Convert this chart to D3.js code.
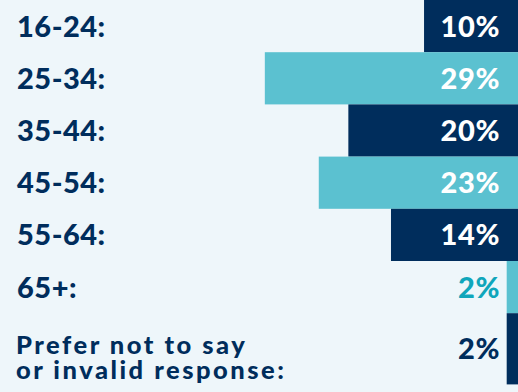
<!DOCTYPE html>
<html>
<head>
<meta charset="utf-8">
<script src="https://cdn.jsdelivr.net/npm/d3@7"></script>
<style>
  html, body { margin: 0; padding: 0; background: #eef6fa; }
  svg { display: block; }
  text { font-family: Lato, "Open Sans", sans-serif; font-weight: 900; }
</style>
</head>
<body>
<script>
// Data
const categories = ["16-24:", "25-34:", "35-44:", "45-54:", "55-64:", "65+:", "Prefer not to say\nor invalid response:"];
const values = [10.8, 29.1, 19.5, 22.9, 14.6, 1.3, 1.3];
const valueLabels = ["10%", "29%", "20%", "23%", "14%", "2%", "2%"];

const W = 518, H = 392;
const navy = "#002d5c", teal = "#5bc1d0", tealText = "#10a6bb";
const barColor = i => (i % 2 === 0 ? navy : teal);
const textOutside = i => (i % 2 === 0 ? navy : tealText);

const svg = d3.select("body").append("svg").attr("width", W).attr("height", H);
svg.append("rect").attr("width", W).attr("height", H).attr("fill", "#eef6fa");

const x = d3.scaleLinear().domain([0, 100]).range([0, 870]);

// row heights: single-line rows share a base step, extra lines add height
const baseStep = 52.2, extraLine = 19;
const lines = categories.map(c => c.split("\n"));
const heights = lines.map(l => baseStep + (l.length - 1) * extraLine);
const tops = [0, ...d3.cumsum(heights)].slice(0, categories.length);

const rows = svg.selectAll("g.row").data(categories).join("g")
  .attr("class", "row")
  .attr("transform", (d, i) => `translate(0,${tops[i]})`);

rows.append("rect")
  .attr("x", (d, i) => W - x(values[i]))
  .attr("y", 0)
  .attr("width", (d, i) => x(values[i]))
  .attr("height", (d, i) => heights[i])
  .attr("fill", (d, i) => barColor(i));

// category labels
rows.each(function(d, i) {
  const g = d3.select(this);
  const ls = lines[i];
  const mid = heights[i] / 2;
  if (ls.length === 1) {
    g.append("text").attr("x", 17).attr("y", mid + 10.5)
      .attr("font-size", 29).attr("letter-spacing", 0.5)
      .attr("fill", navy).text(ls[0]);
  } else {
    const lh = 25;
    ls.forEach((s, k) => {
      g.append("text").attr("x", 16)
        .attr("y", mid + 17.5 + (k - (ls.length - 1) / 2) * lh)
        .attr("font-size", 25.5).attr("letter-spacing", 2.5)
        .attr("fill", navy)
        .text(s);
    });
  }
});

// value labels
rows.append("text")
  .attr("x", W - 18)
  .attr("y", (d, i) => heights[i] / 2 + 10.5)
  .attr("text-anchor", "end")
  .attr("font-size", 29).attr("letter-spacing", 0.6)
  .attr("fill", (d, i) => x(values[i]) > 80 ? "#ffffff" : textOutside(i))
  .text((d, i) => valueLabels[i]);
</script>
</body>
</html>
